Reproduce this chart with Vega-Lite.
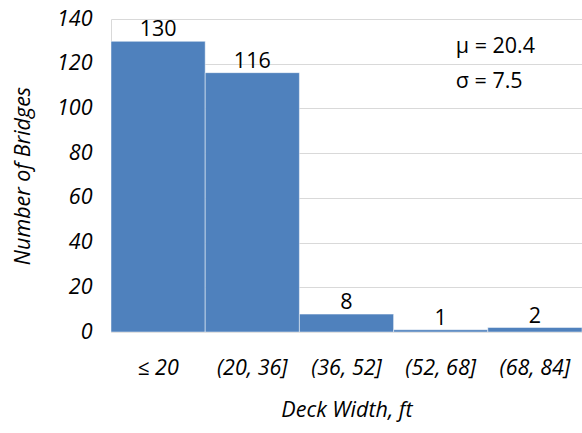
{
  "$schema": "https://vega.github.io/schema/vega-lite/v6.json",
  "width": 471,
  "height": 313,
  "autosize": {"type": "none"},
  "padding": {"left": 111, "top": 19, "right": 0, "bottom": 101},
  "background": "white",
  "config": {
    "view": {"stroke": null},
    "font": "Open Sans"
  },
  "layer": [
    {
      "data": {
        "values": [
          {"bin": "≤ 20", "count": 130},
          {"bin": "(20, 36]", "count": 116},
          {"bin": "(36, 52]", "count": 8},
          {"bin": "(52, 68]", "count": 1},
          {"bin": "(68, 84]", "count": 2}
        ]
      },
      "encoding": {
        "x": {
          "field": "bin",
          "type": "ordinal",
          "sort": ["≤ 20", "(20, 36]", "(36, 52]", "(52, 68]", "(68, 84]"],
          "scale": {"domain": ["≤ 20", "(20, 36]", "(36, 52]", "(52, 68]", "(68, 84]"], "paddingInner": 0, "paddingOuter": 0},
          "axis": {
            "title": "Deck Width, ft",
            "labelAngle": 0,
            "labelFont": "Open Sans",
            "labelFontSize": 21.5,
            "labelFontStyle": "italic",
            "labelColor": "#000000",
            "labelPadding": 25,
            "ticks": false,
            "domain": true,
            "domainColor": "#d9d9d9",
            "titleFont": "Open Sans",
            "titleFontSize": 21.5,
            "titleFontStyle": "italic",
            "titleFontWeight": "normal",
            "titleColor": "#000000",
            "titlePadding": 21
          }
        },
        "y": {
          "field": "count",
          "type": "quantitative",
          "scale": {"domain": [0, 140], "nice": false},
          "axis": {
            "title": "Number of Bridges",
            "values": [0, 20, 40, 60, 80, 100, 120, 140],
            "labelFont": "Open Sans",
            "labelFontSize": 21.5,
            "labelFontStyle": "italic",
            "labelColor": "#000000",
            "labelPadding": 19,
            "ticks": false,
            "domain": true,
            "domainColor": "#d9d9d9",
            "grid": true,
            "gridColor": "#d9d9d9",
            "gridWidth": 1,
            "titleFont": "Open Sans",
            "titleFontSize": 21.5,
            "titleFontStyle": "italic",
            "titleFontWeight": "normal",
            "titleColor": "#000000",
            "titlePadding": 22
          }
        }
      },
      "layer": [
        {
          "mark": {"type": "bar", "color": "#4F81BD", "stroke": "#ffffff", "strokeWidth": 0.8, "strokeOpacity": 0.6}
        },
        {
          "mark": {"type": "text", "baseline": "alphabetic", "dy": -5, "fontSize": 21.5, "font": "Open Sans", "color": "#000000"},
          "encoding": {"text": {"field": "count", "type": "quantitative"}}
        }
      ]
    },
    {
      "data": {
        "values": [
          {"note": "μ = 20.4", "at": "(52, 68]", "level": 127.5},
          {"note": "σ = 7.5", "at": "(52, 68]", "level": 111.8}
        ]
      },
      "mark": {"type": "text", "align": "left", "baseline": "middle", "fontSize": 21.5, "font": "Open Sans", "color": "#000000"},
      "encoding": {
        "x": {"field": "at", "type": "ordinal", "bandPosition": 0.66, "scale": {"domain": ["≤ 20", "(20, 36]", "(36, 52]", "(52, 68]", "(68, 84]"]}},
        "y": {"field": "level", "type": "quantitative"},
        "text": {"field": "note"}
      }
    }
  ]
}
